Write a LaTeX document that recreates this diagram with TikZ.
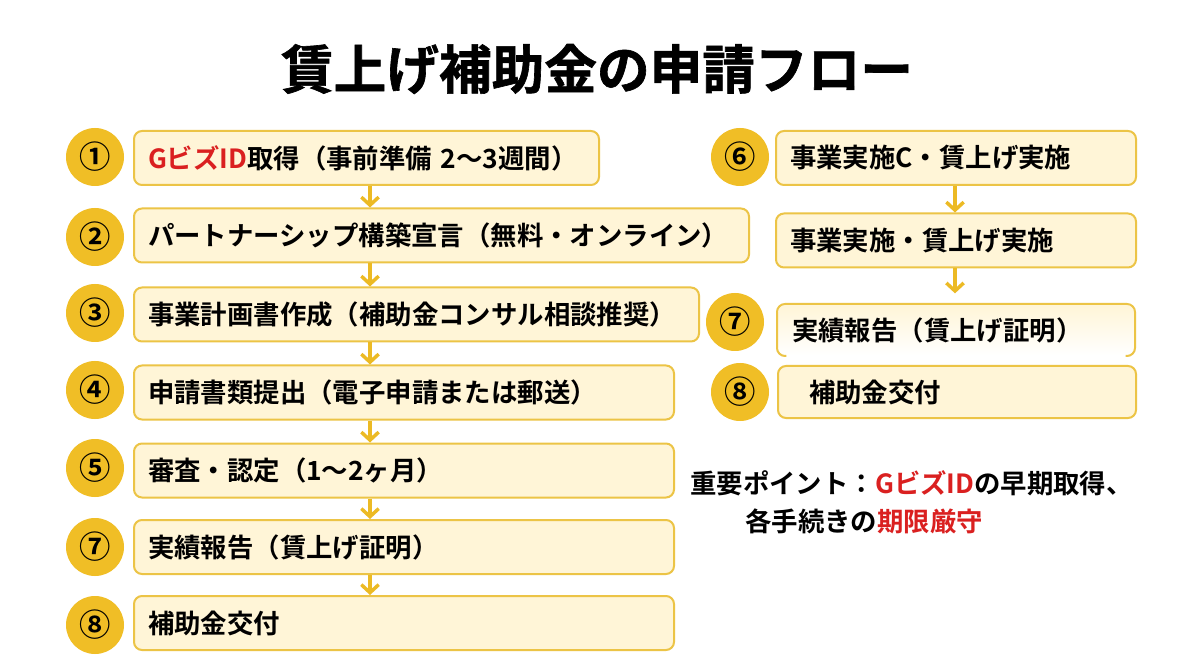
\documentclass[tikz,border=0pt]{standalone}
\usepackage{fontspec}
\setmainfont{Noto Sans CJK JP}[BoldFont={Noto Sans CJK JP Bold}]
\newfontfamily\titlefont{Noto Sans CJK JP Bold}[FakeBold=1.2]
\usetikzlibrary{arrows.meta}
\definecolor{gold}{RGB}{240,190,38}
\definecolor{boxfill}{RGB}{255,245,215}
\definecolor{boxline}{RGB}{236,196,70}
\definecolor{arrowc}{RGB}{236,186,36}
\definecolor{accent}{RGB}{218,32,32}
\begin{document}
\begin{tikzpicture}[x=0.75pt,y=-0.75pt,
  num/.style={circle, fill=gold, minimum size=43.5pt, inner sep=0pt, font=\fontsize{23.5}{23.5}\selectfont\bfseries},
  stepbox/.style={draw=boxline, fill=boxfill, line width=1.5pt, rounded corners=6pt, anchor=west,
    minimum height=40.5pt, inner xsep=10.5pt, inner ysep=0pt, align=left, text width=#1,
    font=\fontsize{19.8}{22}\selectfont\bfseries},
  note/.style={anchor=west, inner sep=0pt, font=\fontsize{19.8}{22}\selectfont\bfseries},
  flow/.style={draw=arrowc, line width=2.6pt, -{Straight Barb[length=6pt,width=13pt]}}]
\useasboundingbox (0,0) rectangle (1200,670);
\fill[white] (0,0) rectangle (1200,670);

\node[font=\fontsize{39.5}{39.5}\titlefont] (title) at (597,69) {賃上げ補助金の申請フロー};

% left column
\node[num] (c1) at (95,157) {①};
\node[num] (c2) at (95,237) {②};
\node[num] (c3) at (95,313) {③};
\node[num] (c4) at (95,390) {④};
\node[num] (c5) at (95,468) {⑤};
\node[num] (c6l) at (95,547) {⑦};
\node[num] (c7l) at (95,625) {⑧};

\node[stepbox=327.75pt] (b1) at (133,158) {\textcolor{accent}{GビズID}取得（事前準備 2～3週間）};
\node[stepbox=440.25pt] (b2) at (133,235.5) {パートナーシップ構築宣言（無料・オンライン）};
\node[stepbox=402.75pt] (b3) at (133,314.5) {事業計画書作成（補助金コンサル相談推奨）};
\node[stepbox=384pt] (b4) at (133,392.5) {申請書類提出（電子申請または郵送）};
\node[stepbox=384pt] (b5) at (133,470.5) {審査・認定（1～2ヶ月）};
\node[stepbox=384pt] (b6) at (133,547) {実績報告（賃上げ証明）};
\node[stepbox=384pt] (b7) at (133,623) {補助金交付};

\coordinate (ax) at (370,0);
\draw[flow] (b1.south -| ax) -- (b2.north -| ax);
\draw[flow] (b2.south -| ax) -- (b3.north -| ax);
\draw[flow] (b3.south -| ax) -- (b4.north -| ax);
\draw[flow] (b4.south -| ax) -- (b5.north -| ax);
\draw[flow] (b5.south -| ax) -- (b6.north -| ax);
\draw[flow] (b6.south -| ax) -- (b7.north -| ax);

% right column
\node[num] (c6) at (740,157) {⑥};
\node[stepbox=249pt] (r1) at (775,158) {事業実施C・賃上げ実施};
\node[stepbox=249pt] (r2) at (775,240.5) {事業実施・賃上げ実施};
\node[num] (c7r) at (735,322) {⑦};
\node[stepbox=246pt, draw=none, fill=none, top color=boxfill, bottom color=white, minimum height=37.5pt] (r3) at (777,330) {実績報告（賃上げ証明）};
\draw[boxline, line width=1.5pt, rounded corners=6pt] ([xshift=7pt]r3.south west) -- (r3.south west) -- (r3.north west) -- (r3.north east) -- (r3.south east) -- ([xshift=-7pt]r3.south east);
\node[num] (c8r) at (740,392) {⑧};
\node[stepbox=247.5pt, minimum height=39pt] (r4) at (777,392) {\hspace*{12.75pt}補助金交付};

\coordinate (rx) at (955,0);
\draw[flow] (r1.south -| rx) -- (r2.north -| rx);
\draw[flow] (r2.south -| rx) -- ([yshift=8pt]r3.north -| rx);

% note
\node[note] (n1) at (690,483) {重要ポイント：\textcolor{accent}{GビズID}の早期取得、};
\node[note] (n2) at (745,521) {各手続きの\textcolor{accent}{期限厳守}};
\end{tikzpicture}
\end{document}
